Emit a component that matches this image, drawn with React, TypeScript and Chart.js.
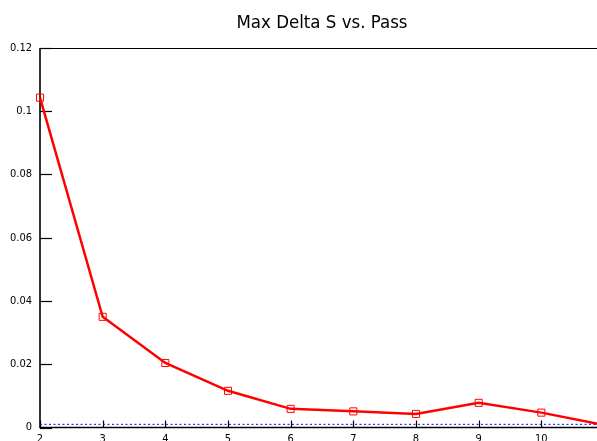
import { useEffect, useRef } from 'react';
import { Chart, registerables } from 'chart.js';

Chart.register(...registerables);

const TITLE = 'Max Delta S vs. Pass';
const passes = [2, 3, 4, 5, 6, 7, 8, 9, 10, 11];
const maxDeltaS = [0.1043, 0.035, 0.0204, 0.0116, 0.0059, 0.0051, 0.0043, 0.0078, 0.0047, 0.0008];
const tolerance = [0.001, 0.001, 0.001, 0.001, 0.001, 0.001, 0.001, 0.001, 0.001, 0.001];
const xTickLabels = ['2', '3', '4', '5', '6', '7', '8', '9', '10', '11'];
const yTickLabels = ['0', '0.02', '0.04', '0.06', '0.08', '0.1', '0.12'];

const FONT = "'Liberation Sans Narrow', 'DejaVu Sans Condensed', 'Liberation Sans', sans-serif";

const framePlugin = {
  id: 'frame',
  beforeDatasetsDraw(chart: any) {
    const { ctx, chartArea } = chart;
    const { left, right, top, bottom } = chartArea;
    ctx.save();
    ctx.strokeStyle = '#000';
    ctx.lineWidth = 1;
    ctx.beginPath();
    ctx.moveTo(left, top + 0.5);
    ctx.lineTo(right, top + 0.5);
    ctx.stroke();
    ctx.lineWidth = 1.6;
    ctx.beginPath();
    ctx.moveTo(left, top);
    ctx.lineTo(left, bottom);
    ctx.lineTo(right, bottom);
    ctx.stroke();
    ctx.lineWidth = 1.2;
    const ys = chart.scales.y;
    ys.ticks.forEach((t: any) => {
      const py = Math.round(ys.getPixelForValue(t.value)) + 0.5;
      ctx.beginPath();
      ctx.moveTo(left, py);
      ctx.lineTo(left + 12, py);
      ctx.stroke();
    });
    const xs = chart.scales.x;
    xs.ticks.forEach((t: any) => {
      const px = Math.round(xs.getPixelForValue(t.value)) + 0.5;
      ctx.beginPath();
      ctx.moveTo(px, bottom);
      ctx.lineTo(px, bottom - 7);
      ctx.stroke();
    });
    ctx.restore();
  },
  afterDraw(chart: any) {
    const { ctx, chartArea } = chart;
    ctx.save();
    ctx.fillStyle = '#000';
    ctx.font = `18.5px ${FONT}`;
    ctx.textAlign = 'center';
    ctx.textBaseline = 'middle';
    ctx.fillText(TITLE, (chartArea.left + chartArea.right) / 2, 23);
    ctx.restore();
  },
};

export default function App() {
  const ref = useRef<HTMLCanvasElement | null>(null);

  useEffect(() => {
    if (!ref.current) return;
    const chart = new Chart(ref.current, {
      type: 'line',
      data: {
        datasets: [
          {
            label: 'tolerance',
            data: passes.map((p, i) => ({ x: p, y: tolerance[i] })),
            borderColor: '#0000ff',
            borderWidth: 1,
            borderDash: [2, 2.5],
            pointRadius: 0,
            tension: 0,
            clip: false as any,
          },
          {
            label: 'Max Delta S',
            data: passes.map((p, i) => ({ x: p, y: maxDeltaS[i] })),
            borderColor: '#ff0000',
            borderWidth: 2.5,
            pointStyle: 'rect',
            pointRadius: 5,
            pointBorderWidth: 1,
            pointBorderColor: '#ff0000',
            pointBackgroundColor: 'rgba(0,0,0,0)',
            tension: 0,
            clip: false as any,
          },
        ],
      },
      options: {
        animation: false,
        responsive: false,
        devicePixelRatio: 1,
        layout: { autoPadding: false, padding: { top: 48, right: 21, left: 0, bottom: 0 } },
        plugins: {
          legend: { display: false },
          title: { display: false },
          tooltip: { enabled: false },
        },
        scales: {
          x: {
            type: 'linear',
            min: 2,
            max: 11,
            grid: { display: false, drawTicks: false },
            border: { display: false },
            ticks: {
              stepSize: 1,
              padding: 5,
              color: '#000',
              font: { family: FONT, size: 11 },
              maxRotation: 0,
              autoSkip: false,
              callback: (v: any) => xTickLabels[Math.round(Number(v)) - 2] ?? '',
            },
            afterFit: (s: any) => {
              s.height = 32.5;
            },
          },
          y: {
            type: 'linear',
            min: 0,
            max: 0.12,
            grid: { display: false, drawTicks: false },
            border: { display: false },
            ticks: {
              stepSize: 0.02,
              padding: 8,
              color: '#000',
              font: { family: FONT, size: 11 },
              callback: (v: any) => yTickLabels[Math.round(Number(v) / 0.02)] ?? '',
            },
            afterFit: (s: any) => {
              s.width = 40;
            },
          },
        },
      },
      plugins: [framePlugin],
    });
    return () => chart.destroy();
  }, []);

  return (
    <div
      style={{
        position: 'fixed',
        left: 0,
        top: 0,
        width: 597,
        height: 441,
        overflow: 'hidden',
        background: '#fff',
      }}
    >
      <canvas ref={ref} width={625} height={460} style={{ display: 'block', width: 625, height: 460 }} />
    </div>
  );
}
